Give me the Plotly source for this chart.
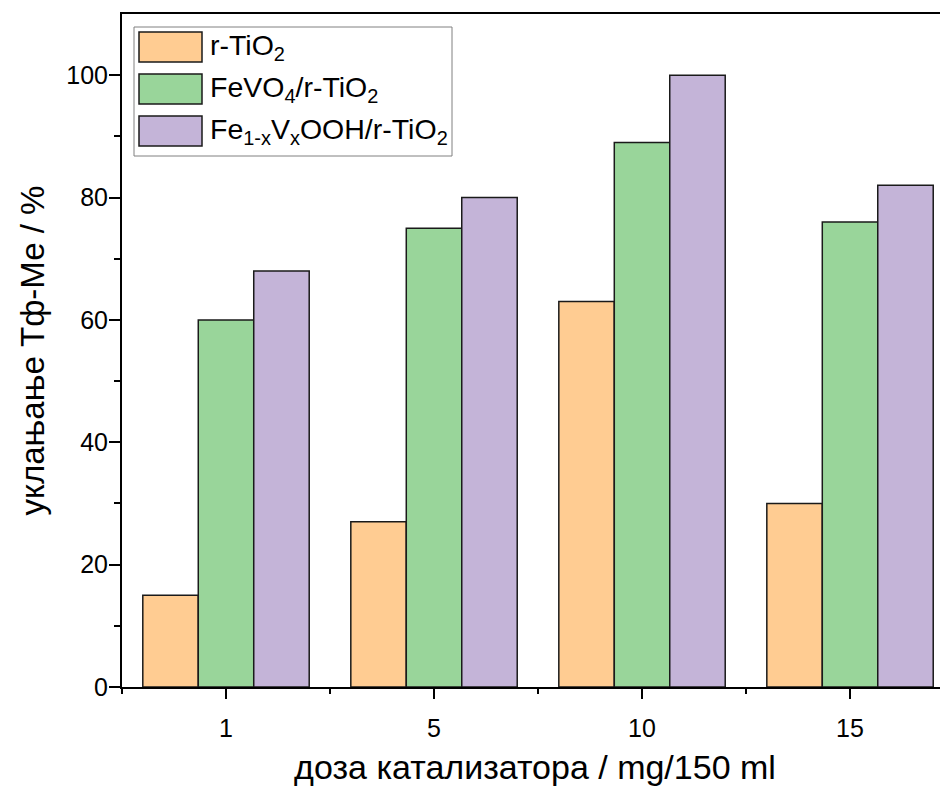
import plotly.graph_objects as go

categories = ["1", "5", "10", "15"]
r_tio2 = [15, 27, 63, 30]
fevo4 = [60, 75, 89, 76]
fevooh = [68, 80, 100, 82]
names = ["r-TiO<sub>2</sub>", "FeVO<sub>4</sub>/r-TiO<sub>2</sub>",
         "Fe<sub>1-x</sub>V<sub>x</sub>OOH/r-TiO<sub>2</sub>"]
colors = ["#FFCC92", "#99D59A", "#C4B4D8"]

# the page body has an 8px margin, so the figure starts at (8, 8) in the window
OFF = 8
W, H = 948 - OFF, 791 - OFF
PL, PT, PB = 122, 14, 687          # plot area edges in window pixels
ML, MT, MB = PL - OFF, PT - OFF, H + OFF - PB
PW, PH = 948 - PL, PB - PT

def px(x):
    return (x - PL) / PW

def py(y):
    return (PB - y) / PH

xpos = list(range(len(categories)))
fig = go.Figure()
for nm, vals, c in zip(names, [r_tio2, fevo4, fevooh], colors):
    fig.add_trace(go.Bar(x=xpos, y=vals, name=nm, showlegend=False,
                         marker=dict(color=c, line=dict(color="#1a1a1a", width=1.5))))

# custom legend (box, swatches, labels)
shapes = [dict(type="rect", xref="paper", yref="paper", x0=px(134), x1=px(452), y0=py(156), y1=py(27),
               line=dict(color="#808080", width=1), fillcolor="white", layer="above")]
annotations = []
for i, (nm, c) in enumerate(zip(names, colors)):
    top = 32 + i * 42
    shapes.append(dict(type="rect", xref="paper", yref="paper", x0=px(139), x1=px(202),
                       y0=py(top + 30), y1=py(top), line=dict(color="#1a1a1a", width=1.5),
                       fillcolor=c, layer="above"))
    annotations.append(dict(xref="paper", yref="paper", x=px(208), y=py(top + 15), text=nm,
                            showarrow=False, xanchor="left", yanchor="middle",
                            font=dict(size=28.5, family="Liberation Sans", color="black")))

fig.update_layout(
    width=W, height=H,
    margin=dict(l=ML, r=0, t=MT, b=MB, autoexpand=False),
    paper_bgcolor="white", plot_bgcolor="white",
    barmode="group", bargap=0.2, bargroupgap=0,
    font=dict(family="Liberation Sans", color="black"),
    showlegend=False,
    shapes=shapes, annotations=annotations,
)
fig.update_xaxes(
    range=[-0.5, 3.471], tickvals=xpos, ticktext=categories,
    showline=True, linecolor="black", linewidth=2, mirror=True,
    ticks="outside", ticklen=10, tickwidth=1.5, tickcolor="black",
    tickfont=dict(size=25), automargin=False, ticklabelstandoff=8,
    minor=dict(tick0=-0.5, dtick=1, ticks="outside", ticklen=5, tickwidth=1.5, tickcolor="black"),
    showgrid=False, zeroline=False,
    title=dict(text="доза катализатора / mg/150 ml", standoff=14, font=dict(size=34)),
)
fig.update_yaxes(
    range=[0, 110], tickvals=[0, 20, 40, 60, 80, 100],
    showline=True, linecolor="black", linewidth=2, mirror=False,
    ticks="outside", ticklen=11, tickwidth=1.5, tickcolor="black",
    tickfont=dict(size=25), automargin=False, ticklabelstandoff=-4,
    minor=dict(tickvals=[10, 30, 50, 70, 90], ticks="outside", ticklen=6, tickwidth=1.5, tickcolor="black"),
    showgrid=False, zeroline=False,
    title=dict(text="уклањање Тф-Ме / %", standoff=12, font=dict(size=33)),
)
fig.write_html("out.html")
